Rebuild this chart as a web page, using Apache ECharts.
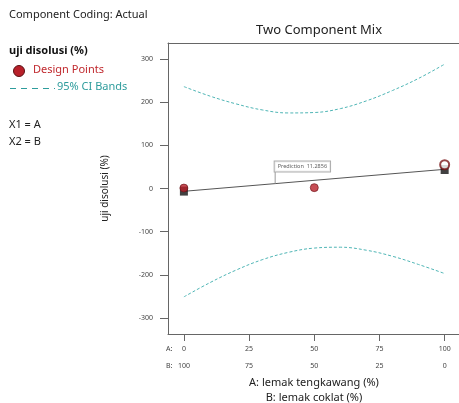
<!DOCTYPE html>
<html>
<head>
<meta charset="UTF-8">
<title>Two Component Mix</title>
<script src="https://cdn.jsdelivr.net/npm/echarts@6/dist/echarts.min.js"></script>
</head>
<body style="margin:0">
<div id="chart" style="width:459px;height:403px"></div>
<script>
// x = A: lemak tengkawang (%), B = 100 - A
var aTicks = [0, 25, 50, 75, 100];
var bTicks = [100, 75, 50, 25, 0];
var yTicks = [-300, -200, -100, 0, 100, 200, 300];

// CI bands
var bandA = [0, 10, 20, 30, 40, 50, 60, 70, 80, 90, 100];
var upperCI = [236, 214, 196, 182, 175, 176, 185, 203, 227, 255, 288];
var lowerCI = [-251, -218, -189, -165, -148, -138, -136, -143, -157, -176, -197];

// fitted line
var fitA = [0, 100];
var fitVal = [-6.5, 44.4];

// design points
var designA = [0, 50];
var designVal = [1, 2];
var openA = [100];
var openVal = [55];
var squareA = [0, 100];
var squareVal = [-6, 44];

var predA = 35;
var predVal = 11.2856;
var predTop = 38;

function zip(xs, ys) {
    var res = [];
    for (var i = 0; i < xs.length; i++) res.push([xs[i], ys[i]]);
    return res;
}

var font = 'Noto Sans';
var chart = echarts.init(document.getElementById('chart'));

var option = {
    animation: false,
    textStyle: { fontFamily: font },
    title: {
        text: 'Two Component Mix',
        left: 314, top: 19,
        textAlign: 'center',
        textStyle: { fontSize: 13, fontWeight: 'normal', color: '#222', fontFamily: font }
    },
    grid: { left: 168, top: 43, right: 0, bottom: 69 },
    xAxis: [{
        type: 'value', min: -6.1, max: 105.5,
        splitLine: { show: false },
        axisLine: { onZero: false, lineStyle: { color: '#666', width: 1 } },
        axisTick: { customValues: aTicks, length: 7, lineStyle: { color: '#666' } },
        axisLabel: {
            customValues: aTicks, margin: 6, fontSize: 7, color: '#444', lineHeight: 17,
            formatter: function (v) {
                var i = aTicks.indexOf(v);
                return aTicks[i] + '\n' + bTicks[i];
            }
        }
    }, {
        type: 'value', position: 'top', min: -6.1, max: 105.5,
        splitLine: { show: false },
        axisLine: { show: true, onZero: false, lineStyle: { color: '#666', width: 1 } },
        axisTick: { show: false }, axisLabel: { show: false }
    }],
    yAxis: {
        type: 'value', min: -337, max: 337,
        splitLine: { show: false },
        axisLine: { show: true, onZero: false, lineStyle: { color: '#666', width: 1 } },
        axisTick: { show: true, customValues: yTicks, length: 8, lineStyle: { color: '#666' } },
        axisLabel: { customValues: yTicks, margin: 15, fontSize: 7, color: '#444' },
        name: 'uji disolusi (%)', nameLocation: 'middle', nameGap: 58,
        nameTextStyle: { fontSize: 10, color: '#222' }
    },
    series: [{
        type: 'line', data: zip(bandA, upperCI), smooth: 0.4, symbol: 'none', silent: true,
        lineStyle: { color: '#4fb5b5', width: 1, type: [3, 2] }
    }, {
        type: 'line', data: zip(bandA, lowerCI), smooth: 0.4, symbol: 'none', silent: true,
        lineStyle: { color: '#4fb5b5', width: 1, type: [3, 2] }
    }, {
        type: 'line', data: zip(fitA, fitVal), symbol: 'none', silent: true,
        lineStyle: { color: '#555', width: 1 }
    }, {
        type: 'line', data: [[predA, predVal], [predA, predTop]], symbol: 'none', silent: true,
        lineStyle: { color: '#999', width: 1 }
    }, {
        type: 'scatter', data: [[predA, predTop]], symbolSize: 1, silent: true,
        itemStyle: { color: 'rgba(0,0,0,0)' },
        label: {
            show: true, position: [0, 0], align: 'left', verticalAlign: 'bottom',
            formatter: 'Prediction  ' + predVal,
            fontSize: 5.5, color: '#333', backgroundColor: '#fff',
            borderColor: '#999', borderWidth: 1, padding: [2, 3]
        }
    }, {
        type: 'scatter', data: zip(squareA, squareVal), symbol: 'rect', symbolSize: [8, 9],
        silent: true, itemStyle: { color: '#111' }, z: 3
    }, {
        type: 'scatter', data: zip(designA, designVal), symbolSize: 8, silent: true,
        itemStyle: { color: '#b8202a', borderColor: '#6a1216', borderWidth: 0.8 }, z: 4
    }, {
        type: 'scatter', data: zip(openA, openVal), symbolSize: 9, silent: true,
        itemStyle: { color: '#fff', borderColor: '#7a1518', borderWidth: 2 }, z: 4
    }],
    graphic: [
        { type: 'text', left: 9, top: 9, style: { text: 'Component Coding: Actual', fontSize: 11, fill: '#222', fontFamily: font } },
        { type: 'text', left: 9, top: 45, style: { text: 'uji disolusi (%)', fontSize: 11, fontWeight: 'bold', fill: '#111', fontFamily: font } },
        { type: 'circle', shape: { cx: 19, cy: 71, r: 5.5 }, style: { fill: '#b8202a', stroke: '#5a0f12', lineWidth: 1 } },
        { type: 'text', left: 33, top: 64, style: { text: 'Design Points', fontSize: 11, fill: '#c0282d', fontFamily: font } },
        { type: 'line', shape: { x1: 10, y1: 88.5, x2: 55, y2: 88.5 }, style: { stroke: '#2e9c9c', lineWidth: 1, lineDash: [6, 5] } },
        { type: 'text', left: 57, top: 81, style: { text: '95% CI Bands', fontSize: 11, fill: '#2e9c9c', fontFamily: font } },
        { type: 'text', left: 9, top: 119, style: { text: 'X1 = A', fontSize: 11, fill: '#222', fontFamily: font } },
        { type: 'text', left: 9, top: 136, style: { text: 'X2 = B', fontSize: 11, fill: '#222', fontFamily: font } },
        { type: 'text', left: 166, top: 345, style: { text: 'A:', fontSize: 7, fill: '#444', fontFamily: font } },
        { type: 'text', left: 166, top: 362, style: { text: 'B:', fontSize: 7, fill: '#444', fontFamily: font } },
        { type: 'text', x: 314, y: 383, style: { text: 'A: lemak tengkawang (%)', fontSize: 11, fill: '#222', align: 'center', verticalAlign: 'middle', fontFamily: font } },
        { type: 'text', x: 314, y: 398, style: { text: 'B: lemak coklat (%)', fontSize: 11, fill: '#222', align: 'center', verticalAlign: 'middle', fontFamily: font } }
    ]
};
chart.setOption(option);
</script>
</body>
</html>
